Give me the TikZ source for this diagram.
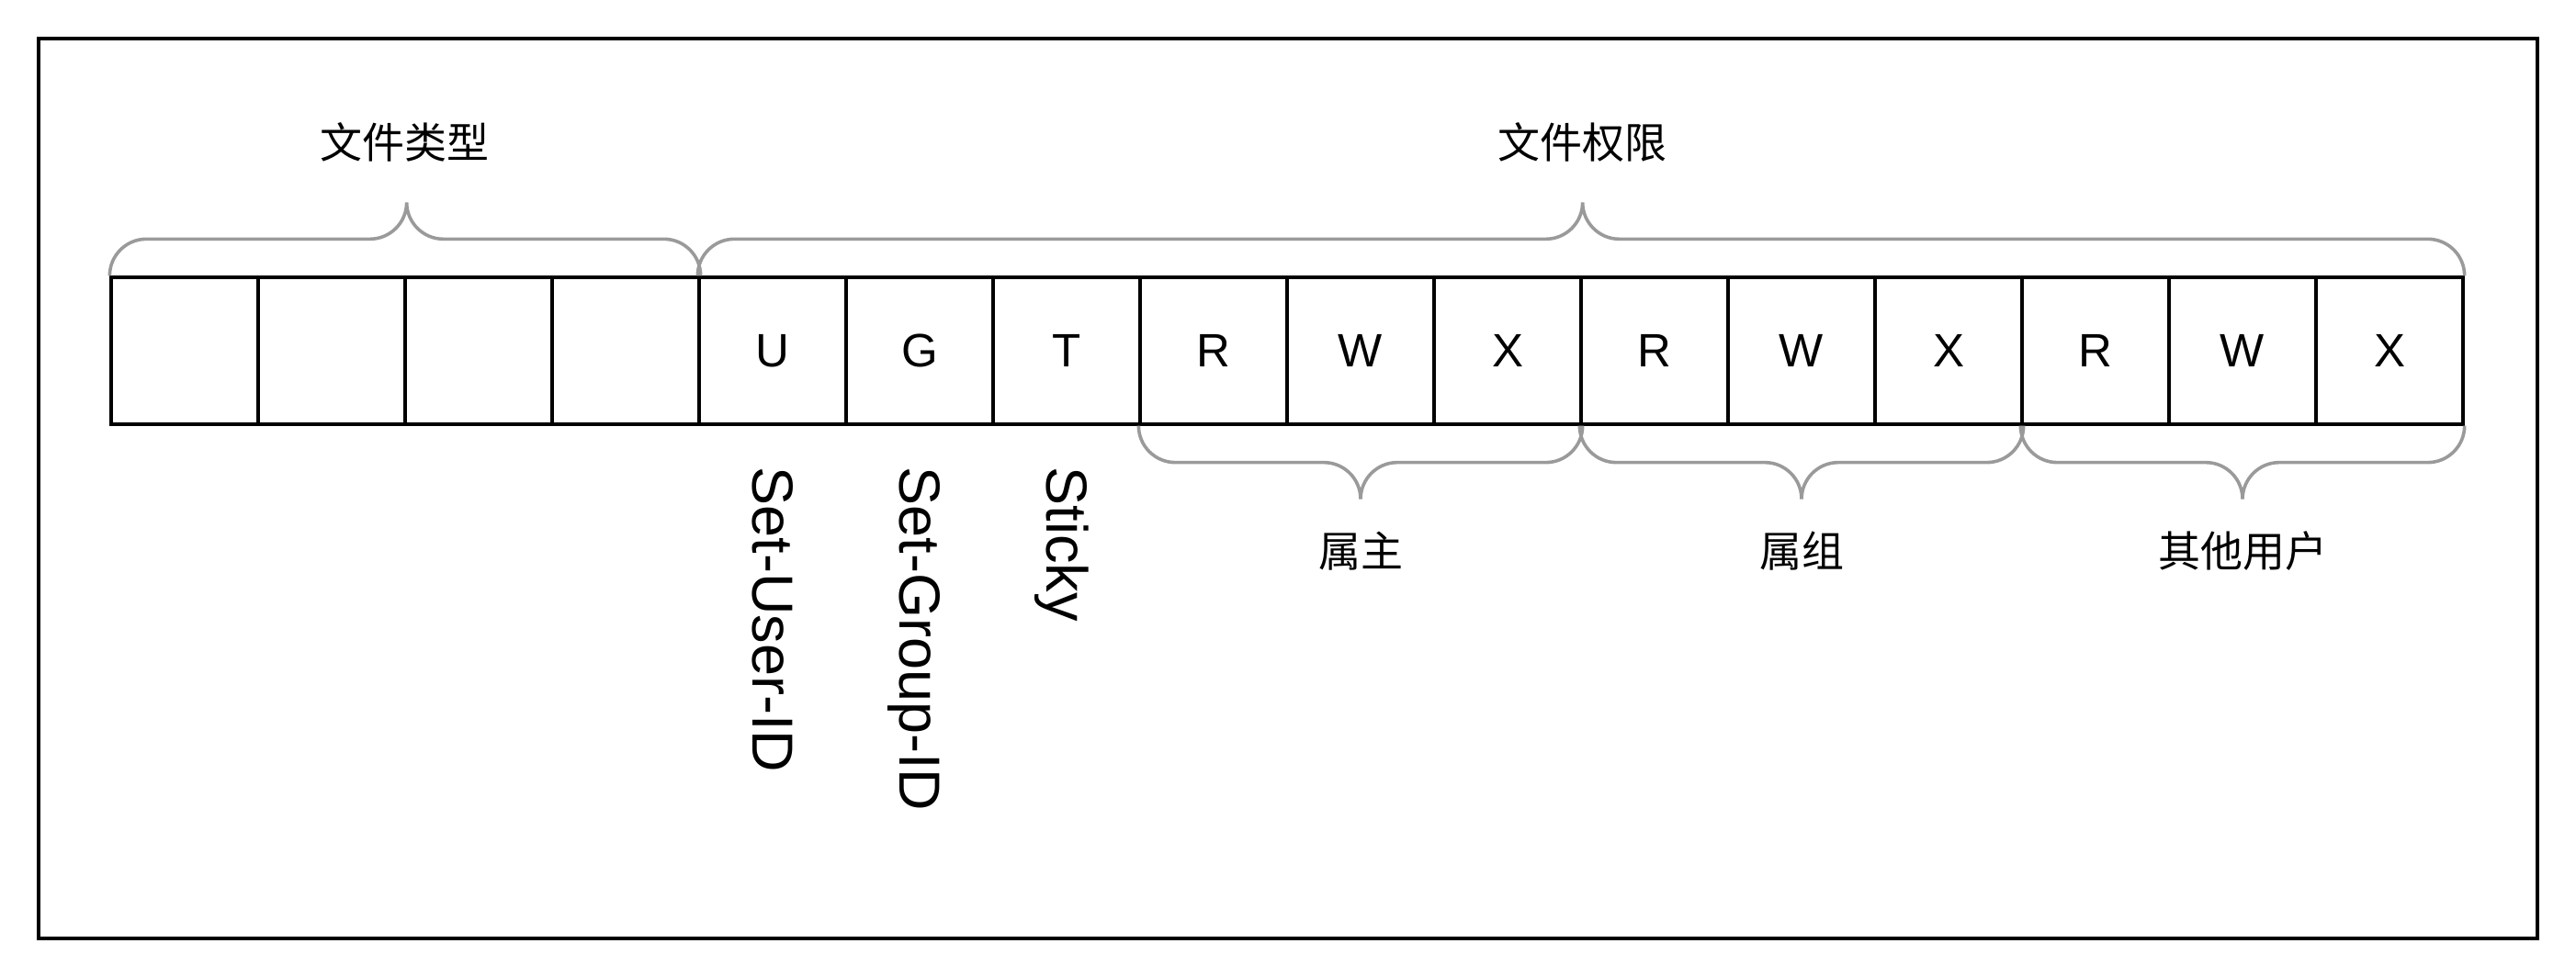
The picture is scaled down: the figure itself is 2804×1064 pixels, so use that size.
\documentclass[tikz,border=0pt]{standalone}
\usepackage{fontspec}
\setmainfont{Liberation Sans}
\newfontfamily\cjk{Noto Sans CJK SC}
\usetikzlibrary{calc}
\definecolor{bracegray}{RGB}{154,154,154}
\tikzset{
  cell/.style={draw=black, line width=3.3pt, minimum width=160pt, minimum height=160pt, inner sep=0pt, font=\fontsize{51}{60}\selectfont},
  brace/.style={draw=bracegray, line width=3.6pt, rounded corners=40pt},
  cnlabel/.style={inner sep=0pt, font=\cjk\fontsize{46}{55}\selectfont},
  vlabel/.style={inner sep=0pt, rotate=-90, anchor=base west, font=\fontsize{63}{70}\selectfont},
  frame/.style={draw=black, line width=3.8pt}
}
\begin{document}
\begin{tikzpicture}[x=1pt,y=1pt]
\useasboundingbox (0,0) rectangle (2804,1064);
\node[frame, minimum width=2720pt, minimum height=980pt, inner sep=0pt] (frame) at (1401.75,532) {};
\foreach \i/\t in {0/{},1/{},2/{},3/{},4/U,5/G,6/T,7/R,8/W,9/X,10/R,11/W,12/X,13/R,14/W,15/X}{
  \node[cell] (c\i) at (201+160*\i,682) {\t};
}
% top braces
\draw[brace] (c0.north west) |- ($(c1.north east)+(0,40)$) -- ++(0,40)
             (c3.north east) |- ($(c1.north east)+(0,40)$) -- ++(0,40);
\draw[brace] (c4.north west) |- ($(c9.north east)+(0,40)$) -- ++(0,40)
             (c15.north east) |- ($(c9.north east)+(0,40)$) -- ++(0,40);
% bottom braces
\draw[brace] (c7.south west) |- ($(c8.south)+(0,-40)$) -- ++(0,-40)
             (c9.south east) |- ($(c8.south)+(0,-40)$) -- ++(0,-40);
\draw[brace] (c10.south west) |- ($(c11.south)+(0,-40)$) -- ++(0,-40)
             (c12.south east) |- ($(c11.south)+(0,-40)$) -- ++(0,-40);
\draw[brace] (c13.south west) |- ($(c14.south)+(0,-40)$) -- ++(0,-40)
             (c15.south east) |- ($(c14.south)+(0,-40)$) -- ++(0,-40);
% labels
\node[cnlabel] (ltype) at ($(c1.north east)+(-2,145)$) {文件类型};
\node[cnlabel] (lperm) at ($(c9.north east)+(0,145)$) {文件权限};
\node[cnlabel] (lowner) at ($(c8.south)+(0,-136)$) {属主};
\node[cnlabel] (lgroup) at ($(c11.south)+(0,-136)$) {属组};
\node[cnlabel] (lother) at ($(c14.south)+(0,-136)$) {其他用户};
\node[vlabel] (lsuid) at ($(c4.south)+(-22,-45)$) {Set-User-ID};
\node[vlabel] (lsgid) at ($(c5.south)+(-22,-45)$) {Set-Group-ID};
\node[vlabel] (lsticky) at ($(c6.south)+(-22,-45)$) {Sticky};
\end{tikzpicture}
\end{document}
